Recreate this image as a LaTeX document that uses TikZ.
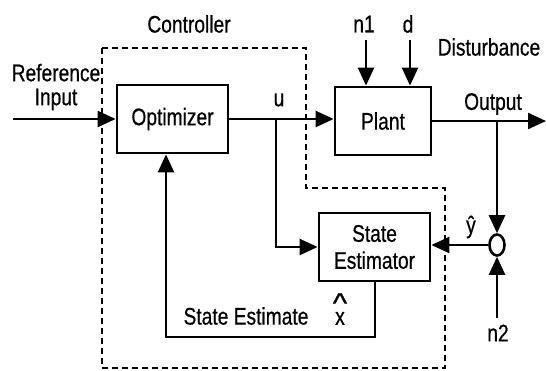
\documentclass[tikz,border=0pt]{standalone}
\usepackage{fontspec}
\setmainfont{Liberation Sans}[FakeStretch=0.8,FakeBold=0.6]
\usetikzlibrary{arrows.meta,shapes.geometric}
\begin{document}
\begin{tikzpicture}[x=1pt,y=-1pt,
  every node/.style={font=\fontsize{24}{27}\selectfont},
  blk/.style={draw,line width=2.8pt,inner sep=0pt},
  con/.style={line width=2.4pt,-{Triangle[length=18pt,width=16pt]}},
  dsh/.style={line width=2.6pt,dash pattern=on 6pt off 4pt}]
\useasboundingbox (0,0) rectangle (546,370);
% dashed controller boundary
\draw[dsh] (102,48) -- (306,48) -- (306,188) -- (445,188) -- (445,368) -- (102,368) -- cycle;
% blocks
\node[blk,minimum width=111pt,minimum height=68pt] (opt) at (172.5,119) {Optimizer};
\node[blk,minimum width=96pt,minimum height=68pt] (plant) at (383,121) {Plant};
\node[blk,minimum width=111pt,minimum height=68pt,align=center] (est) at (374.5,247) {State\\Estimator};
\node[draw,ellipse,line width=2.6pt,minimum width=15pt,minimum height=21pt,inner sep=0pt] (sum) at (497,245) {};
% coordinates
\coordinate (rin) at (13,119);
\coordinate (ub) at (276,119);
\coordinate (outend) at (546,121);
\coordinate (ob) at (497,121);
\coordinate (n2s) at (497,318);
\coordinate (n1s) at (366,40);
\coordinate (ds) at (410,40);
\coordinate (fb1) at (375,337);
\coordinate (fb2) at (166,337);
% connectors
\draw[con] (rin) -- (opt.west);
\draw[con] (opt.east) -- (plant.west |- opt.east);
\draw[con] (plant.east |- outend) -- (outend);
\draw[con] (ob) -- (sum.north);
\draw[con] (n2s) -- (sum.south);
\draw[con] (sum.west) -- (sum.west -| est.east);
\draw[con] (ub) |- (est.west);
\draw[con] (n1s) -- (n1s |- plant.north);
\draw[con] (ds) -- (ds |- plant.north);
\draw[con] (fb1 |- est.south) -- (fb1) -- (fb2) -- (fb2 |- opt.south);
% labels
\node (lctrl) at (189,24) {Controller};
\node[align=center,font=\fontsize{24}{24}\selectfont,inner sep=0pt] (lref) at (56,87) {Reference\\Input};
\node (lu) at (279,100) {u};
\node (ln1) at (364,24) {n1};
\node (ld) at (408,24) {d};
\node (ldist) at (489,47) {Disturbance};
\node (lout) at (493,104) {Output};
\node (lyh) at (471,227) {ŷ};
\node (lse) at (246,316) {State Estimate};
\node[inner sep=0pt] (lxh) at (340,309) {\shortstack{\scalebox{1.6}[1.2]{\textasciicircum}\\[-4pt]x}};
\node (ln2) at (498,333) {n2};
\end{tikzpicture}
\end{document}
